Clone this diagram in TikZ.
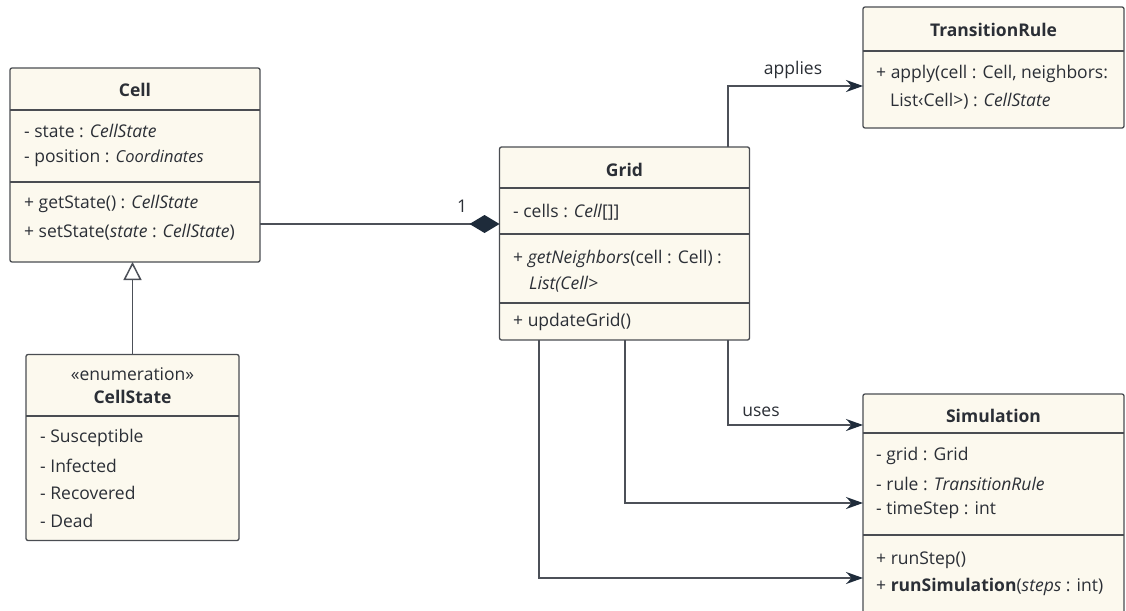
\documentclass[tikz,border=0pt]{standalone}
\usepackage{fontspec}
\setmainfont{Open Sans}
\usetikzlibrary{arrows.meta}

\definecolor{boxfill}{HTML}{FCF9EE}
\definecolor{boxline}{HTML}{4A4D52}
\definecolor{wire}{HTML}{4C5058}
\definecolor{head}{HTML}{1E2B3A}
\definecolor{ink}{HTML}{2B2F36}

\tikzset{
  umlbox/.style={draw=boxline, fill=boxfill, line width=1.3pt, rounded corners=2pt, inner sep=0pt, outer sep=0pt},
  txt/.style={anchor=west, inner sep=0pt, text=ink, font=\fontsize{17.5}{20}\selectfont},
  ttl/.style={inner sep=0pt, text=ink, font=\fontsize{17.5}{20}\selectfont\bfseries},
  divider/.style={draw=boxline, line width=1.3pt},
  assoc/.style={draw=wire, line width=1.5pt, -{Stealth[length=17pt, width=12pt, color=head, fill=head]}},
  comp/.style={draw=wire, line width=1.5pt, -{Diamond[length=30pt, width=18pt, color=head, fill=head]}},
  inherit/.style={draw=wire, line width=1.5pt, -{Triangle[open, length=18pt, width=18pt, fill=white]}},
  lbl/.style={inner sep=0pt, text=ink, font=\fontsize{17.5}{20}\selectfont}
}
\newcommand{\smallit}[1]{{\fontsize{16.5}{19}\selectfont\itshape #1}}

\begin{document}
\begin{tikzpicture}[x=1pt, y=-1pt]
  \useasboundingbox (0,0) rectangle (1126,610);
  \clip (0,0) rectangle (1126,610);
  \fill[white] (0,0) rectangle (1126,610);

  % classes
  \node[umlbox, minimum width=250pt, minimum height=194pt] (cell) at (135,165) {};
  \node[umlbox, minimum width=213pt, minimum height=186pt] (cellstate) at (132.5,447.5) {};
  \node[umlbox, minimum width=250pt, minimum height=193pt] (grid) at (624.5,243.5) {};
  \node[umlbox, minimum width=261pt, minimum height=121pt] (rule) at (993.5,67.5) {};
  \node[umlbox, minimum width=261pt, minimum height=226pt] (sim) at (993.5,507) {};

  % Cell
  \node[ttl] (cellname) at (135,90) {Cell};
  \draw[divider] (cell.west |- 0,110) -- (cell.east |- 0,110);
  \node[txt] (cella1) at (24,131) {- state : \textit{CellState}};
  \node[txt] (cella2) at (24,158) {- position : \smallit{Coordinates}};
  \draw[divider] (cell.west |- 0,182) -- (cell.east |- 0,182);
  \node[txt] (cellm1) at (24,204) {+ getState() : \textit{CellState}};
  \node[txt] (cellm2) at (24,232) {+ setState(\textit{state} : \textit{CellState})};

  % CellState
  \node[lbl] (csstereo) at (132.5,374) {«enumeration»};
  \node[ttl] (csname) at (132.5,397) {CellState};
  \draw[divider] (cellstate.west |- 0,416) -- (cellstate.east |- 0,416);
  \foreach \lit [count=\i] in {Susceptible, Infected, Recovered, Dead}
    \node[txt] (cs\i) at (40,410.4+27.6*\i) {- \lit};

  % Grid
  \node[ttl] (gridname) at (624.5,170) {Grid};
  \draw[divider] (grid.west |- 0,188) -- (grid.east |- 0,188);
  \node[txt] (grida1) at (513,212) {- cells : \textit{Cell}[]]};
  \draw[divider] (grid.west |- 0,234) -- (grid.east |- 0,234);
  \node[txt] (gridm1) at (513,259) {+ \textit{getNeighbors}(cell : Cell) :};
  \node[txt] (gridm1b) at (529,284) {\textit{List(Cell>}};
  \draw[divider] (grid.west |- 0,303) -- (grid.east |- 0,303);
  \node[txt] (gridm2) at (513,322) {+ updateGrid()};

  % TransitionRule
  \node[ttl] (rulename) at (993.5,30) {TransitionRule};
  \draw[divider] (rule.west |- 0,51) -- (rule.east |- 0,51);
  \node[txt] (rulem1) at (876,74) {+ apply(cell : Cell, neighbors:};
  \node[txt] (rulem1b) at (890,101) {List‹Cell>) : \textit{CellState}};

  % Simulation
  \node[ttl] (simname) at (993.5,416) {Simulation};
  \draw[divider] (sim.west |- 0,433) -- (sim.east |- 0,433);
  \node[txt] (sima1) at (876,456) {- grid : Grid};
  \node[txt] (sima2) at (876,484) {- rule : \textit{TransitionRule}};
  \node[txt] (sima3) at (876,510) {- timeStep : int};
  \draw[divider] (sim.west |- 0,535) -- (sim.east |- 0,535);
  \node[txt] (simm1) at (876,560) {+ runStep()};
  \node[txt] (simm2) at (876,587) {+ \textbf{runSimulation}(\textit{steps} : int)};

  % relations
  \draw[inherit] (cellstate.north) -- (cellstate.north |- cell.south);
  \draw[comp] (cell.east |- 0,224) -- (grid.west |- 0,224);
  \node[lbl] (mult) at (462,206) {1};

  \coordinate (applies) at (728,86);
  \draw[assoc] (grid.north -| applies) |- (rule.west |- applies);
  \node[lbl] (appliesl) at (793,70) {applies};

  \coordinate (uses) at (728,425);
  \draw[assoc] (grid.south -| uses) |- (sim.west |- uses);
  \node[lbl] (usesl) at (761,412) {uses};

  \coordinate (ruleref) at (625,503);
  \draw[assoc] (grid.south -| ruleref) |- (sim.west |- ruleref);
  \coordinate (runref) at (539,578);
  \draw[assoc] (grid.south -| runref) |- (sim.west |- runref);
\end{tikzpicture}
\end{document}
